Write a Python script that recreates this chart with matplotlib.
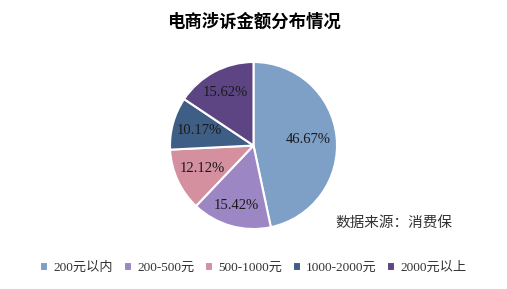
import matplotlib
matplotlib.use("Agg")
import matplotlib.pyplot as plt
import numpy as np

categories = ["200元以内", "200-500元", "500-1000元", "1000-2000元", "2000元以上"]
values = [46.67, 15.42, 12.12, 10.17, 15.62]
colors = ["#7E9FC6", "#9D86C4", "#D4909F", "#3E5E86", "#5D4584"]

fam = ["Liberation Serif", "Noto Sans CJK SC", "DejaVu Sans"]
plt.rcParams['font.family'] = fam

fig = plt.figure(figsize=(5.07, 2.89), dpi=100)

pie_ax = fig.add_axes([(253.5 - 83.5) / 507, 1 - (145.5 + 83.5) / 289, 167 / 507, 167 / 289])
wedges, texts, autotexts = pie_ax.pie(
    values, colors=colors, startangle=90, counterclock=False,
    autopct=lambda p: f"{p:.2f}%", pctdistance=0.66,
    wedgeprops=dict(edgecolor="white", linewidth=1.5),
    textprops=dict(fontsize=10.5, color="#1a1a1a", family=fam))
# label placement (Excel "best fit"-like distances)
label_dist = [0.66, 0.75, 0.67, 0.67, 0.72]
for w, t, d in zip(wedges, autotexts, label_dist):
    ang = np.deg2rad((w.theta1 + w.theta2) / 2)
    t.set_position((d * np.cos(ang), d * np.sin(ang)))
pie_ax.set_xlim(-1, 1)
pie_ax.set_ylim(-1, 1)
pie_ax.set_aspect('equal')

fig.text(0.5, 1 - 22 / 289, "电商涉诉金额分布情况", ha="center", va="center",
         fontsize=12.5, fontweight="bold", family=["Noto Sans CJK SC"])
fig.text(335 / 507, 1 - 223 / 289, "数据来源：消费保", ha="left", va="center",
         fontsize=10.5, color="#333333", family=["Noto Sans CJK SC"])

leg = fig.legend(wedges, categories, loc="center", bbox_to_anchor=(0.5, 1 - 268 / 289),
                 ncol=5, frameon=False, fontsize=9.5, handlelength=0.6, handleheight=0.6,
                 handletextpad=0.4, columnspacing=0.8)
for t in leg.get_texts():
    t.set_color("#333333")

fig.savefig("out.png", dpi=100)
